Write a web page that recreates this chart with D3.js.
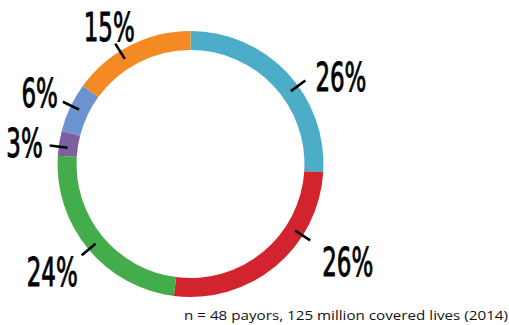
<!DOCTYPE html>
<html><head><meta charset="utf-8">
<script src="https://cdn.jsdelivr.net/npm/d3@7"></script>
<style>
html,body{margin:0;padding:0;background:#fff;}
svg{display:block;}
</style></head>
<body>
<svg id="chart" width="509" height="325"></svg>
<script>
// ---- data ----
const categories = ["A", "B", "C", "D", "E", "F"];
const values = [26, 26, 24, 3, 6, 15];
const labels = ["26%", "26%", "24%", "3%", "6%", "15%"];
const colors = ["#4BADC7", "#D2232E", "#43AC4B", "#7B5F9E", "#6A93CF", "#F48A24"];
const footnote = "n = 48 payors, 125 million covered lives (2014)";

// ---- layout ----
const cx = 190.5, cy = 164, rOuter = 133, rInner = 114;
const tickAngles = [54, 122.5, 230, 277.5, 296, 328];   // degrees clockwise from top
const tickR0 = 124, tickR1 = 142;
const labelOffsets = [[10, 10, "start"], [12, 36, "start"], [-4, 31, "end"], [-7, 12, "end"], [-5, 5, "end"], [-6, -3, "middle"]];
const labelFontSize = 39, labelTargetWidth = 51;

const svg = d3.select("#chart");
const g = svg.append("g").attr("transform", `translate(${cx},${cy})`);

const pie = d3.pie().sort(null).value(d => d.v);
const arc = d3.arc().innerRadius(rInner).outerRadius(rOuter);
const arcs = pie(values.map((v, i) => ({v, i})));

g.selectAll("path.slice").data(arcs).join("path")
  .attr("class", "slice")
  .attr("d", arc)
  .attr("fill", d => colors[d.data.i]);

const pt = (deg, r) => {
  const a = deg * Math.PI / 180;
  return [r * Math.sin(a), -r * Math.cos(a)];
};

g.selectAll("line.tick").data(tickAngles).join("line")
  .attr("class", "tick")
  .attr("x1", d => pt(d, tickR0)[0]).attr("y1", d => pt(d, tickR0)[1])
  .attr("x2", d => pt(d, tickR1)[0]).attr("y2", d => pt(d, tickR1)[1])
  .attr("stroke", "#000").attr("stroke-width", 2.6);

const fam = "'DejaVu Sans Condensed', 'Liberation Sans', sans-serif";
// measure scale factor
const probe = svg.append("text").attr("font-family", fam)
  .attr("font-size", labelFontSize).text("26%");
const natW = probe.node().getComputedTextLength();
probe.remove();
const k = labelTargetWidth / natW;

labels.forEach((t, i) => {
  const [ex, ey] = pt(tickAngles[i], tickR1);
  const [dx, dy, anchor] = labelOffsets[i];
  g.append("text")
    .attr("transform", `translate(${ex + dx},${ey + dy}) scale(${k},1)`)
    .attr("text-anchor", anchor)
    .attr("font-family", fam)
    .attr("font-size", labelFontSize)
    .attr("fill", "#000")
    .attr("stroke", "#000")
    .attr("stroke-width", 0.9)
    .text(t);
});

svg.append("text")
  .attr("x", 184).attr("y", 320)
  .attr("font-family", "'Open Sans', 'Noto Sans', sans-serif")
  .attr("font-size", 13.5)
  .attr("textLength", 324)
  .attr("lengthAdjust", "spacingAndGlyphs")
  .attr("fill", "#111")
  .text(footnote);
</script>
</body></html>
